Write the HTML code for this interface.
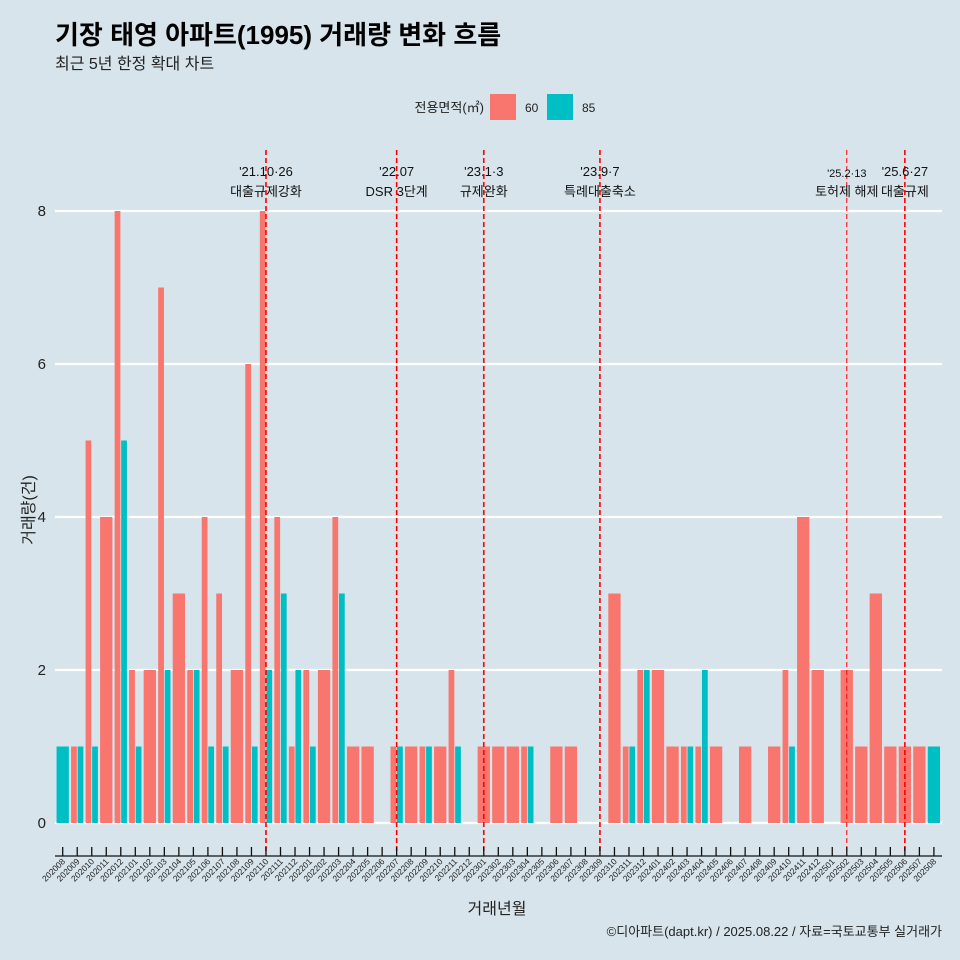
<!DOCTYPE html>
<html><head><meta charset="utf-8">
<style>
html,body{margin:0;padding:0;background:#d7e4eb;}
svg{display:block;font-family:"Liberation Sans","Noto Sans CJK KR",sans-serif;}
</style></head>
<body>
<svg id="chart" width="960" height="960" viewBox="0 0 960 960">
<rect x="0" y="0" width="960" height="960" fill="#d7e4eb"/>
<text x="55" y="44" font-size="26" font-weight="bold" fill="#000">기장 태영 아파트(1995) 거래량 변화 흐름</text>
<text x="55" y="69" font-size="16" fill="#222">최근 5년 한정 확대 차트</text>
<g>
<text x="484" y="112" font-size="13" text-anchor="end" fill="#222">전용면적(㎡)</text>
<rect x="490" y="94" width="26" height="26" fill="#f8766d"/>
<text x="525" y="112" font-size="12" fill="#222">60</text>
<rect x="547" y="94" width="26" height="26" fill="#00bfc4"/>
<text x="582" y="112" font-size="12" fill="#222">85</text>
</g>
<g id="grid"></g>
<g id="bars"></g>
<g id="events"></g>
<g id="axes"></g>
<text transform="translate(34,510) rotate(-90)" font-size="16" text-anchor="middle" fill="#222">거래량(건)</text>
<text x="497" y="914" font-size="16" text-anchor="middle" fill="#222">거래년월</text>
<text x="942" y="936" font-size="13" text-anchor="end" fill="#222">©디아파트(dapt.kr) / 2025.08.22 / 자료=국토교통부 실거래가</text>
</svg>
<script>
const months = ["202008","202009","202010","202011","202012","202101","202102","202103","202104","202105","202106","202107","202108","202109","202110","202111","202112","202201","202202","202203","202204","202205","202206","202207","202208","202209","202210","202211","202212","202301","202302","202303","202304","202305","202306","202307","202308","202309","202310","202311","202312","202401","202402","202403","202404","202405","202406","202407","202408","202409","202410","202411","202412","202501","202502","202503","202504","202505","202506","202507","202508"];
const series60 = [0,1,5,4,8,2,2,7,3,2,4,3,2,6,8,4,1,2,2,4,1,1,0,1,1,1,1,2,0,1,1,1,1,0,1,1,0,0,3,1,2,2,1,1,1,1,0,1,0,1,2,4,2,0,2,1,3,1,1,1,0];
const series85 = [1,1,1,0,5,1,0,2,0,2,1,1,0,1,2,3,2,1,0,3,0,0,0,1,0,1,0,1,0,0,0,0,1,0,0,0,0,0,0,1,2,0,0,1,2,0,0,0,0,0,1,0,0,0,0,0,0,0,0,0,1];
const yTicks = [0,2,4,6,8];
const eventMonths = ["202110","202207","202301","202309","202502","202506"];
const eventLine1 = ["'21.10·26","'22.07","'23.1·3","'23.9·7","'25.2·13","'25.6·27"];
const eventLine2 = ["대출규제강화","DSR 3단계","규제완화","특례대출축소","토허제 해제","대출규제"];
const eventSmall = [false,false,false,false,true,false];

const NS="http://www.w3.org/2000/svg";
const X0=62.7, STEP=14.52, Y0=823, PX=76.5, BW=13.1;
const xPos = i => X0 + STEP*i;
const yPos = v => Y0 - v*PX;
function mk(tag, attrs, parent){const e=document.createElementNS(NS,tag);for(const k in attrs)e.setAttribute(k,attrs[k]);parent.appendChild(e);return e;}
const grid=document.getElementById('grid'), bars=document.getElementById('bars'), ev=document.getElementById('events'), axes=document.getElementById('axes');

yTicks.forEach(t=>{
  const l=mk('line',{x1:55,x2:942,y1:yPos(t),y2:yPos(t),stroke:'#fff','stroke-width':2.2},grid);
  
  
  const tx=mk('text',{x:46,y:yPos(t)+5,'font-size':15,'text-anchor':'end',fill:'#222'},axes);
  tx.textContent=t;
  
  
});

months.forEach((m,i)=>{
  const a=series60[i], b=series85[i], c=xPos(i);
  const both=a>0&&b>0;
  if(a>0){
    const x= both? c-BW/2 : c-BW/2, w= both? BW/2 : BW;
    const r=mk('rect',{x:x+0.4,y:yPos(a),width:w-0.8,height:a*PX,fill:'#f8766d'},bars);
    
    
  }
  if(b>0){
    const x= both? c : c-BW/2, w= both? BW/2 : BW;
    const r=mk('rect',{x:x+0.4,y:yPos(b),width:w-0.8,height:b*PX,fill:'#00bfc4'},bars);
    
    
  }
  const tk=mk('line',{x1:c,x2:c,y1:847,y2:856,stroke:'#111','stroke-width':1.3},axes);
  
  
  const lb=mk('text',{x:0,y:0,'font-size':8.5,'text-anchor':'end',fill:'#222',transform:`translate(${c+3},${862}) rotate(-45)`},axes);
  lb.textContent=m;
  
  
});
const ax=mk('line',{x1:55,x2:942,y1:856,y2:856,stroke:'#111','stroke-width':1.3},axes);



eventMonths.forEach((m,k)=>{
  const c=xPos(months.indexOf(m));
  const small=eventSmall[k];
  const l=mk('line',{x1:c,x2:c,y1:150,y2:852,stroke:'#ff0000','stroke-width':small?1:1.6,'stroke-dasharray':'5,3'},ev);
  
  
  const t1=mk('text',{x:c,y:small?177:176,'font-size':small?11:13,'text-anchor':'middle',fill:'#111'},ev);
  t1.textContent=eventLine1[k];
  
  
  const t2=mk('text',{x:c,y:196,'font-size':13,'text-anchor':'middle',fill:'#111'},ev);
  t2.textContent=eventLine2[k];
  
  
});
</script>
</body></html>
